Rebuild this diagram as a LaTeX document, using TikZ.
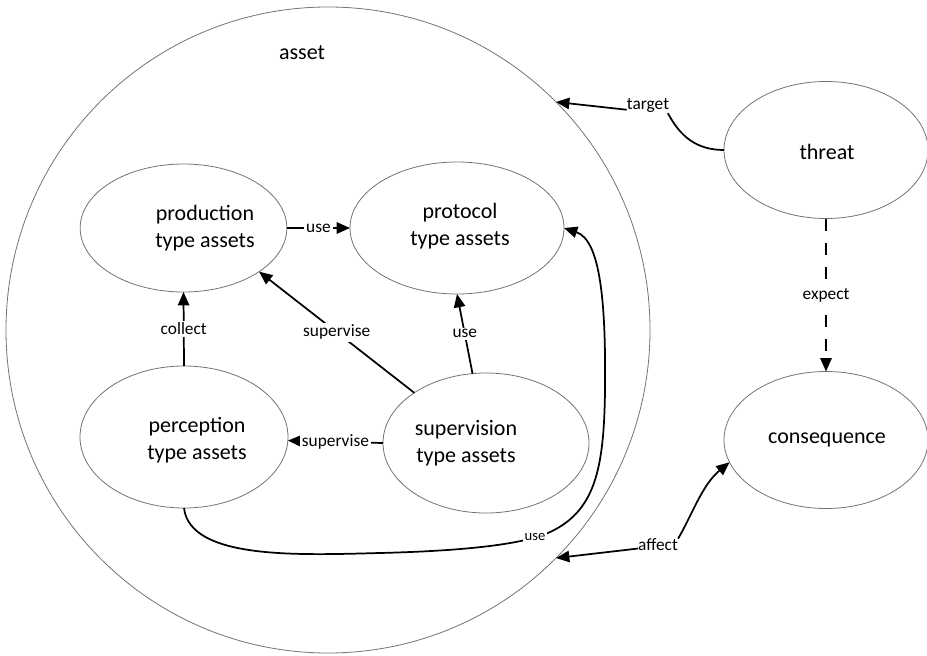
\documentclass[tikz,border=0pt]{standalone}
\usepackage{fontspec}
\setmainfont{Carlito}
\usetikzlibrary{shapes.geometric,arrows.meta}
\begin{document}
\begin{tikzpicture}[x=0.75pt,y=-0.75pt,
  blob/.style={ellipse, draw=black!55, line width=0.6pt, inner sep=0pt, outer sep=0pt},
  bigtext/.style={font=\fontsize{16.5}{20.5}\selectfont, align=center, inner sep=0pt},
  edgelabel/.style={font=\fontsize{13}{15}\selectfont, fill=white, inner sep=1.5pt},
  link/.style={line width=1.3pt, -{Triangle[length=10pt,width=8.5pt]}},
  plainlink/.style={line width=1.3pt},
]
\useasboundingbox (0,0) rectangle (927,656);

% outer asset boundary
\node[blob, minimum width=483pt, minimum height=484.5pt] (asset) at (328,330) {};
\node[bigtext] (assetT) at (302,53) {asset};

% asset categories
\node[blob, minimum width=155pt, minimum height=96pt]  (prod) at (183.5,228) {};
\node[blob, minimum width=160.5pt, minimum height=99pt] (prot) at (457,228) {};
\node[blob, minimum width=156pt, minimum height=106.5pt] (perc) at (184,437) {};
\node[blob, minimum width=154.5pt, minimum height=105pt] (sup) at (486,443) {};

\node[bigtext] (prodT) at (205,228) {production\\type assets};
\node[bigtext] (protT) at (460,226) {protocol\\type assets};
\node[bigtext] (percT) at (197,440) {perception\\type assets};
\node[bigtext] (supT)  at (466,443) {supervision\\type assets};

% threat and consequence
\node[blob, minimum width=153pt, minimum height=102.75pt] (threat) at (826,150) {};
\node[blob, minimum width=153pt, minimum height=102.75pt] (cons) at (826,440) {};
\node[bigtext] (threatT) at (827,152) {threat};
\node[bigtext] (consT) at (827,440) {consequence};

% relations inside the asset
\draw[link] (prod.east) -- (prot.west) node[edgelabel, midway] (l1) {use};
\draw[link] (perc.north) -- (prod.south) node[edgelabel, midway] (l2) {collect};
\draw[link] (sup.145) -- (prod.-30) node[edgelabel, midway] (l3) {supervise};
\draw[link] (sup.101) -- (prot.-90) node[edgelabel, midway] (l4) {use};
\draw[link] (sup.west) -- (perc.-2) node[edgelabel, midway] (l5) {supervise};
\draw[link] (perc.south) .. controls (190,560) and (300,555) .. (380,553)
  .. controls (460,551) and (520,545) .. (548,533)
  .. controls (595,512) and (604,470) .. (605,390)
  .. controls (606,300) and (600,240) .. (prot.east);
\node[edgelabel, font=\fontsize{11}{13}\selectfont, inner sep=1pt] (l6) at (535,537) {use};

% threat targets the asset
\node[edgelabel, inner sep=0pt, fill=none] (tgt) at (648,106) {target};
\draw[link] (tgt.190) -- (asset.45);
\draw[plainlink] (tgt.-20) .. controls (680,136) and (696,150) .. (threat.west);

% threat leads to consequence
\draw[link, line width=1.2pt, dash pattern=on 9.5pt off 8.5pt] (threat.south) -- (cons.north)
  node[edgelabel, midway] (l7) {expect};

% consequence affects the asset
\node[edgelabel, inner sep=0pt, fill=none] (aff) at (658,545) {affect};
\draw[link] (aff.190) -- (asset.-45);
\draw[link] (aff.north east) .. controls (692,515) and (702,485) .. (cons.193);
\end{tikzpicture}
\end{document}
